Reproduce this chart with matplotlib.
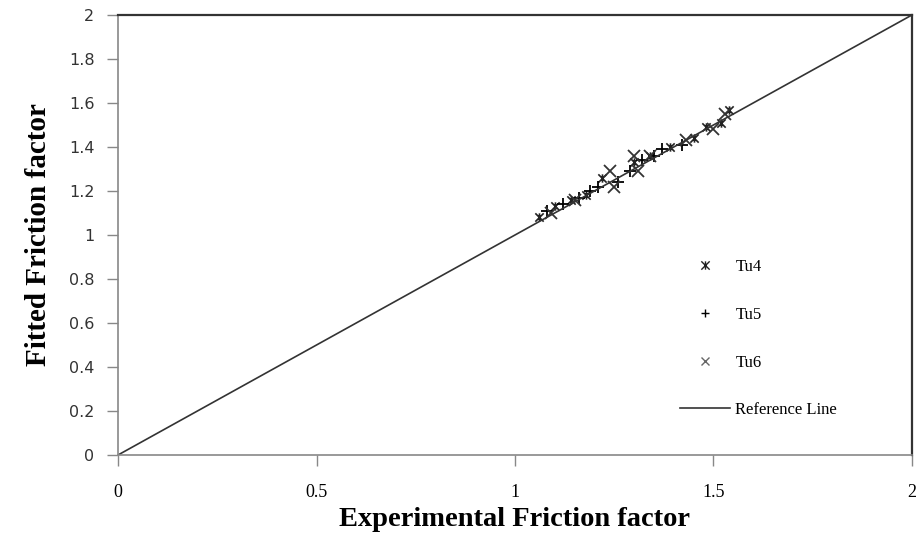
import numpy as np
import matplotlib
matplotlib.use("Agg")
import matplotlib.pyplot as plt
from matplotlib.path import Path

# Experimental vs fitted friction factor for each tube
tu4_exp = [1.06, 1.10, 1.14, 1.18, 1.22, 1.30, 1.34, 1.39, 1.45, 1.48, 1.52, 1.54]
tu4_fit = [1.08, 1.13, 1.16, 1.18, 1.26, 1.33, 1.36, 1.40, 1.44, 1.49, 1.51, 1.57]

tu5_exp = [1.08, 1.12, 1.16, 1.19, 1.21, 1.26, 1.29, 1.32, 1.35, 1.37, 1.42]
tu5_fit = [1.11, 1.14, 1.17, 1.20, 1.22, 1.24, 1.29, 1.34, 1.36, 1.39, 1.41]

tu6_exp = [1.09, 1.15, 1.24, 1.25, 1.31, 1.30, 1.34, 1.43, 1.50, 1.53]
tu6_fit = [1.10, 1.16, 1.29, 1.22, 1.29, 1.36, 1.36, 1.43, 1.48, 1.55]

ref_line = [0, 2]

x_ticks = [0, 0.5, 1, 1.5, 2]
x_tick_labels = ["0", "0.5", "1", "1.5", "2"]
y_ticks = [0, 0.2, 0.4, 0.6, 0.8, 1, 1.2, 1.4, 1.6, 1.8, 2]
y_tick_labels = ["0", "0.2", "0.4", "0.6", "0.8", "1", "1.2", "1.4", "1.6", "1.8", "2"]

# spreadsheet-style star marker: an x with a vertical bar through it
star = Path(
    [(-1, -1), (1, 1), (-1, 1), (1, -1), (0, -1), (0, 1)],
    [Path.MOVETO, Path.LINETO, Path.MOVETO, Path.LINETO, Path.MOVETO, Path.LINETO],
)

fig = plt.figure(figsize=(9.17, 5.53), dpi=100)
ax = fig.add_axes([0.1287, 0.1772, 0.8658, 0.7957])

ax.plot(tu4_exp, tu4_fit, linestyle="none", marker=star, markersize=6,
        markeredgewidth=1.2, color="#222222", label="Tu4")
ax.plot(tu5_exp, tu5_fit, linestyle="none", marker="+", markersize=8,
        markeredgewidth=1.3, color="black", label="Tu5")
ax.plot(tu6_exp, tu6_fit, linestyle="none", marker="x", markersize=9,
        markeredgewidth=1.3, color="#333333", label="Tu6")
ax.plot(ref_line, ref_line, color="#333333", linewidth=1.2, label="Reference Line")

ax.set_xlim(0, 2)
ax.set_ylim(0, 2)
ax.set_xticks(x_ticks)
ax.set_xticklabels(x_tick_labels, family="Liberation Serif", fontsize=13)
ax.set_yticks(y_ticks)
ax.set_yticklabels(y_tick_labels, family="DejaVu Sans", fontsize=11.5, color="#333333")
ax.tick_params(axis="x", direction="out", length=8, width=1, color="#888888", pad=13)
ax.tick_params(axis="y", direction="out", length=8, width=1, color="#888888", pad=9)

for side in ["left", "bottom"]:
    ax.spines[side].set_color("#888888")
    ax.spines[side].set_linewidth(1.2)
for side in ["top", "right"]:
    ax.spines[side].set_color("#333333")
    ax.spines[side].set_linewidth(1.6)

ax.set_xlabel("Experimental Friction factor", family="Liberation Serif",
              fontweight="bold", fontsize=20.5, labelpad=4)
ax.set_ylabel("Fitted Friction factor", family="Liberation Serif",
              fontweight="bold", fontsize=21, labelpad=12)

leg = ax.legend(loc="upper left", bbox_to_anchor=(0.70, 0.46), frameon=False,
                prop={"family": "Liberation Serif", "size": 12},
                labelspacing=1.9, handlelength=3.0, handletextpad=0.3,
                borderaxespad=0)
# smaller symbols in the key than on the plot
for h in leg.legend_handles[:3]:
    h.set_markersize(6)
    h.set_markeredgewidth(1.0)
leg.legend_handles[2].set_color("#666666")

fig.savefig("out.png", dpi=100)
